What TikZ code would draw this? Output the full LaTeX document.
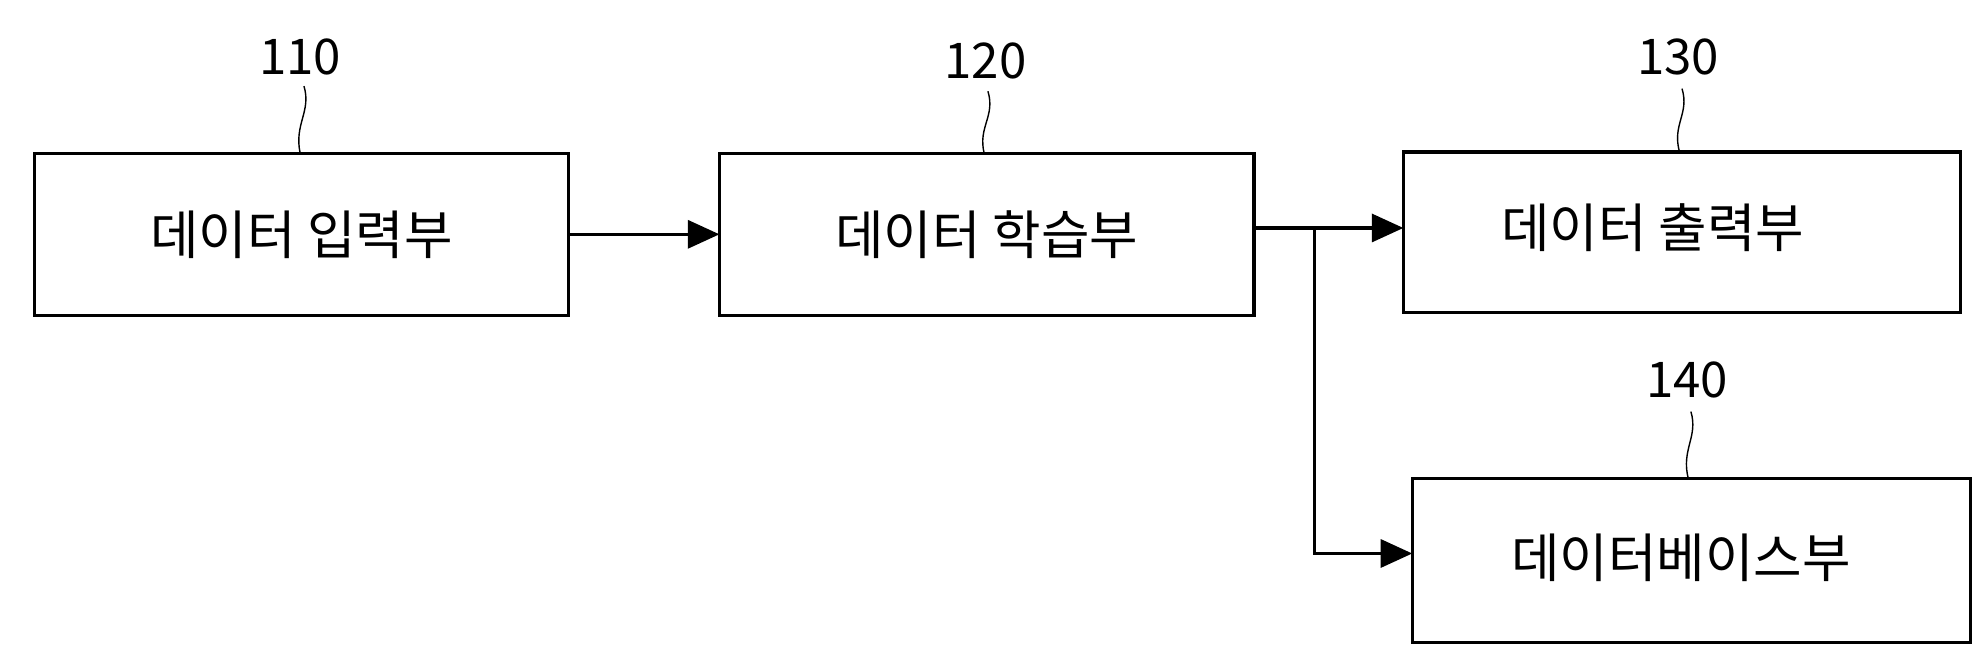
\documentclass[tikz,border=0pt]{standalone}
\usepackage{fontspec}
\setmainfont{Noto Sans CJK KR}
\usetikzlibrary{arrows.meta}

\tikzset{
  block/.style={draw, line width=0.9pt, inner sep=0pt},
  refnum/.style={font=\fontsize{14}{14}\selectfont},
  link/.style={line width=0.9pt, -{Triangle[length=9pt,width=8pt]}},
  leader/.style={line width=0.4pt}
}

\begin{document}
\begin{tikzpicture}[x=0.12666mm, y=-0.12666mm, font=\fontsize{15}{15}\selectfont]
\useasboundingbox (0,0) rectangle (1568,526);
% blocks
\draw[block] (27,121) rectangle (449,249); \node (in) at (238,185) {데이터 입력부};
\draw[block] (568,121) rectangle (990,249); \node (learn) at (779,185) {데이터 학습부};
\draw[block] (1108,120) rectangle (1548,247); \node (out) at (1305,180) {데이터 출력부};
\draw[block] (1115,378) rectangle (1556,507); \node (db) at (1327,440) {데이터베이스부};
\coordinate (inE) at (449,185); \coordinate (learnW) at (568,185);
\coordinate (learnE) at (990,180); \coordinate (outW) at (1108,180);
\coordinate (fork) at (1038,180); \coordinate (bend) at (1038,437); \coordinate (dbW) at (1115,437);
% reference numbers
\node[refnum] (n110) at (237,45) {110};
\node[refnum] (n120) at (778,48) {120};
\node[refnum] (n130) at (1325,45) {130};
\node[refnum] (n140) at (1332,300) {140};
\draw[leader] (240,68) .. controls (246,88) and (232,98) .. (237,121);
\draw[leader] (780,72) .. controls (786,92) and (772,100) .. (777,121);
\draw[leader] (1328,70) .. controls (1334,90) and (1320,98) .. (1326,120);
\draw[leader] (1335,325) .. controls (1341,345) and (1327,355) .. (1333,378);
% arrows
\draw[link] (inE) -- (learnW);
\draw[link] (learnE) -- (outW);
\draw[link] (fork) -- (bend) -- (dbW);
\end{tikzpicture}
\end{document}
